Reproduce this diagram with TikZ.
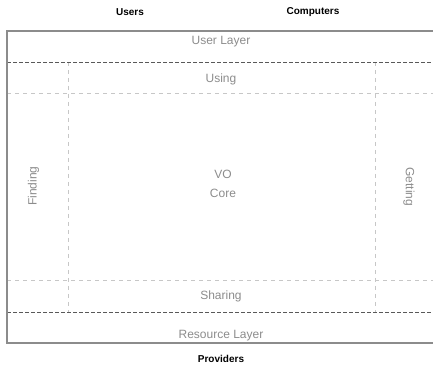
\documentclass[tikz,border=0pt]{standalone}
\usepackage{fontspec}
\setmainfont{Liberation Sans}
\begin{document}
\begin{tikzpicture}[x=0.75pt,y=-0.75pt,
  lbl/.style={font=\fontsize{9}{11}\selectfont, text=black!45, inner sep=0pt},
  head/.style={font=\bfseries\fontsize{7.5}{9}\selectfont, text=black, inner sep=0pt},
  outer/.style={draw=black!45, line width=0.8pt},
  darkdash/.style={draw=black!65, line width=0.7pt, dash pattern=on 3pt off 1.5pt},
  lightdash/.style={draw=black!22, line width=0.7pt, dash pattern=on 3pt off 3pt}]
\useasboundingbox (0,0) rectangle (433,367);
% grid
\draw[lightdash] (7,93) -- (433,93);
\draw[lightdash] (7,280) -- (433,280);
\draw[lightdash] (68,62) -- (68,312);
\draw[lightdash] (375,62) -- (375,312);
\draw[darkdash] (7,62) -- (433,62);
\draw[darkdash] (7,312) -- (433,312);
\draw[outer] (440,31) -- (7,31) -- (7,343) -- (440,343);
% labels
\node[head] (users) at (130,12.5) {Users};
\node[head] (computers) at (313,12.5) {Computers};
\node[head] (providers) at (221,358.5) {Providers};
\node[lbl] (userlayer) at (221,41.5) {User Layer};
\node[lbl] (using) at (221,79.5) {Using};
\node[lbl, align=center] (core) at (223,184) {VO\\[3pt]Core};
\node[lbl, rotate=90] (finding) at (33.5,186) {Finding};
\node[lbl, rotate=-90] (getting) at (409,187) {Getting};
\node[lbl] (sharing) at (221,296.5) {Sharing};
\node[lbl] (resource) at (221,335.5) {Resource Layer};
\end{tikzpicture}
\end{document}
